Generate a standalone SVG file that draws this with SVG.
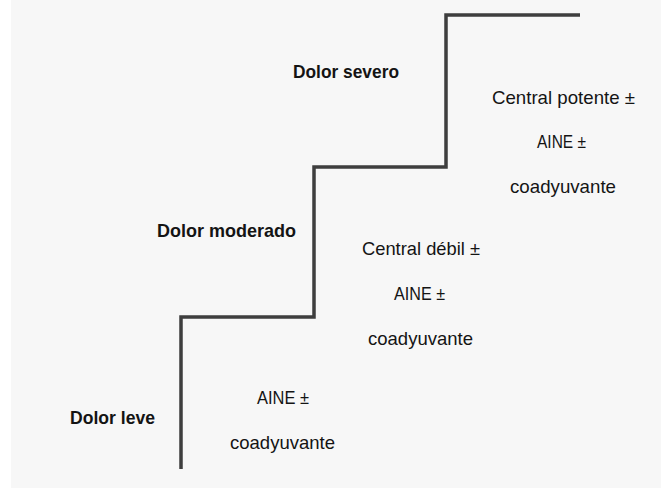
<svg xmlns="http://www.w3.org/2000/svg" width="661" height="488" viewBox="0 0 661 488">
<style>
.t{font-family:"Liberation Sans",Arial,sans-serif;font-size:19px;fill:#141414}
.b{font-weight:bold}
.stair{fill:none;stroke:#3e3e3e;stroke-width:3.5;stroke-linejoin:miter}
</style>
<rect x="0" y="0" width="661" height="488" fill="#ffffff"/>
<rect x="11" y="0" width="650" height="488" fill="#f7f7f7"/>
<g id="connectors">
<path class="stair" d="M181,469 V317 H314 V167 H446 V15 H580"/>
</g>
<g id="dolor-severo"><text class="t b" x="293" y="78" textLength="106" lengthAdjust="spacingAndGlyphs">Dolor severo</text></g>
<g id="dolor-moderado"><text class="t b" x="157" y="237" textLength="139" lengthAdjust="spacingAndGlyphs">Dolor moderado</text></g>
<g id="dolor-leve"><text class="t b" x="70" y="424" textLength="85" lengthAdjust="spacingAndGlyphs">Dolor leve</text></g>
<g id="escalon-3">
<text class="t" x="492" y="104" textLength="143" lengthAdjust="spacingAndGlyphs">Central potente ±</text>
<text class="t" x="537" y="148" textLength="49" lengthAdjust="spacingAndGlyphs">AINE ±</text>
<text class="t" x="510" y="193" textLength="106" lengthAdjust="spacingAndGlyphs">coadyuvante</text>
</g>
<g id="escalon-2">
<text class="t" x="362" y="255" textLength="118" lengthAdjust="spacingAndGlyphs">Central débil ±</text>
<text class="t" x="394" y="300" textLength="51" lengthAdjust="spacingAndGlyphs">AINE ±</text>
<text class="t" x="368" y="345" textLength="105" lengthAdjust="spacingAndGlyphs">coadyuvante</text>
</g>
<g id="escalon-1">
<text class="t" x="257" y="404" textLength="52" lengthAdjust="spacingAndGlyphs">AINE ±</text>
<text class="t" x="230" y="449" textLength="105" lengthAdjust="spacingAndGlyphs">coadyuvante</text>
</g>
</svg>
